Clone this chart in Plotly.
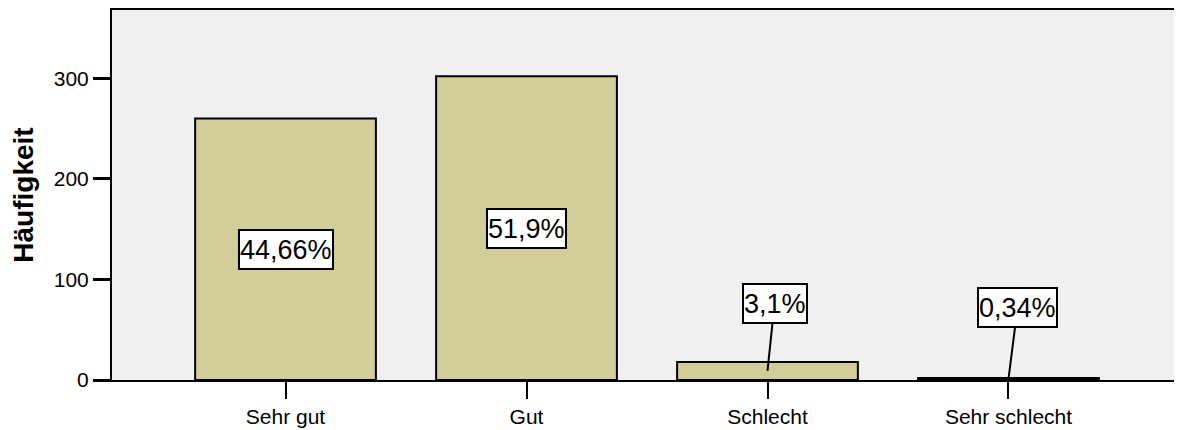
import plotly.graph_objects as go

categories = ["Sehr gut", "Gut", "Schlecht", "Sehr schlecht"]
counts = [260, 302, 18, 2]
pct_labels = ["44,66%", "51,9%", "3,1%", "0,34%"]
y_ticks = [0, 100, 200, 300]

FONT = "Liberation Sans, Arial, Helvetica, sans-serif"

fig = go.Figure()
fig.add_trace(go.Bar(
    x=categories, y=counts, width=0.75,
    marker=dict(color="#D3CE99", line=dict(color="black", width=2)),
    hoverinfo="skip",
))

# label boxes
inside = [True, True, False, False]
offsets = [None, None, (7, -67), (9, -71)]
for cat, val, lab, ins, off in zip(categories, counts, pct_labels, inside, offsets):
    common = dict(
        text=lab, font=dict(family=FONT, size=27, color="black"),
        bgcolor="white", bordercolor="black", borderwidth=2, borderpad=0,
        height=37,
        xref="x", yref="y",
    )
    if ins:
        fig.add_annotation(x=cat, y=val / 2, showarrow=False, **common)
    else:
        fig.add_annotation(x=cat, y=val / 2, showarrow=True, arrowhead=0,
                           arrowwidth=2, arrowcolor="black",
                           ax=off[0], ay=off[1], axref="pixel", ayref="pixel",
                           **common)

fig.update_layout(
    width=1174, height=422,
    margin=dict(l=104, r=0, t=0, b=50),
    paper_bgcolor="white", plot_bgcolor="#F0F0F0",
    showlegend=False,
    font=dict(family=FONT, size=21, color="black"),
    bargap=0.25,
)
fig.update_xaxes(
    type="category", range=[-0.72, 3.72],
    showline=True, linecolor="black", linewidth=1.5, mirror=True,
    ticks="outside", ticklen=17, tickwidth=2, tickcolor="black",
    showgrid=False, zeroline=False,
    tickfont=dict(size=21, family=FONT),
)
fig.update_yaxes(
    range=[0, 368], tickvals=y_ticks, ticktext=[str(v) for v in y_ticks],
    showline=True, linecolor="black", linewidth=2,
    ticks="outside", ticklen=17, tickwidth=2.5, tickcolor="black",
    showgrid=False, zeroline=False,
    tickfont=dict(size=21, family=FONT),
    title=dict(text="<b>Häufigkeit</b>", font=dict(size=28, family=FONT), standoff=15),
)

fig.write_html("out.html")
